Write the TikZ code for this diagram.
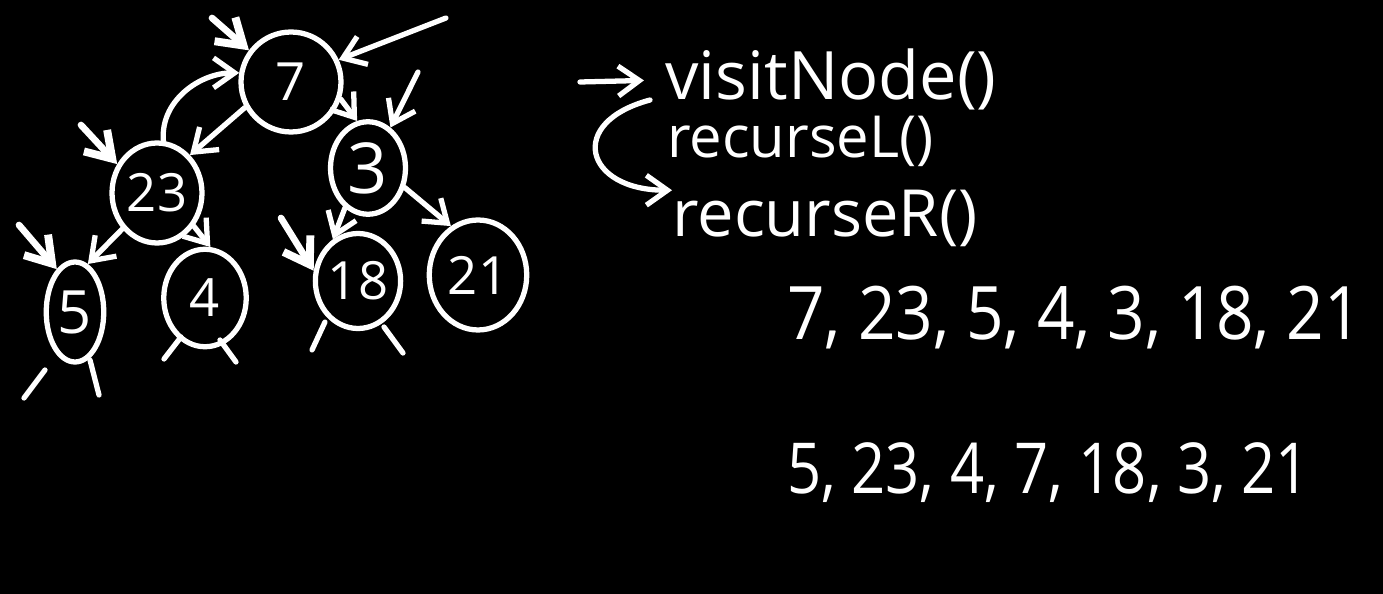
\documentclass[tikz,border=0pt]{standalone}
\usepackage{fontspec}
\setmainfont{Open Sans}
\usetikzlibrary{positioning,arrows.meta,shapes.geometric}

\begin{document}
\begin{tikzpicture}[
  x=0.02cm, y=-0.02cm,
  tnode/.style={ellipse, draw=white, line width=3pt, inner sep=0pt, text=white, font=\fontsize{30}{30}\selectfont},
  arrow/.style={-{Straight Barb[length=12pt,width=17pt,line width=3pt]}, draw=white, line width=3pt, line cap=round},
  enter/.style={arrow, -{Straight Barb[length=14pt,width=18pt,line width=4.5pt]}, line width=3.8pt},
  stub/.style={draw=white, line width=3pt, line cap=round},
  code/.style={text=white, inner sep=0pt, anchor=base west}
]
\useasboundingbox (0,0) rectangle (1383,594);
\fill[black] (0,0) rectangle (1383,594);

\node[tnode, minimum width=2.0cm, minimum height=2.0cm] (n7) at (291,82) {7};
\node[tnode, minimum width=1.8cm, minimum height=2.0cm] (n23) at (157,193) {23};
\node[tnode, minimum width=1.5cm, minimum height=1.85cm, font=\fontsize{40}{40}\selectfont] (n3) at (368,168) {3};
\node[tnode, minimum width=1.15cm, minimum height=2.0cm, font=\fontsize{34}{34}\selectfont] (n5) at (75,312) {5};
\node[tnode, minimum width=1.65cm, minimum height=1.95cm] (n4) at (205,298) {4};
\node[tnode, minimum width=1.7cm, minimum height=1.9cm] (n18) at (358,281) {18};
\node[tnode, minimum width=1.95cm, minimum height=2.2cm] (n21) at (478,275) {21};

\draw[arrow] (n7.209) -- (n23.49);
\draw[arrow] (n23.83) to[out=95,in=180] (n7.170);
\draw[arrow] (n7.-19) -- (n3.103);
\draw[arrow] (n3.-28) -- (n21.119);
\draw[arrow] (n3.240) -- (n18.121);
\draw[arrow] (n23.226) -- (n5.75);
\draw[arrow] (n23.-42) -- (n4.84);

\coordinate (in7a) at (212,18);
\coordinate (in7b) at (446,18);
\coordinate (in3) at (418,72);
\coordinate (in18) at (281,218);
\coordinate (in23) at (81,125);
\coordinate (in5) at (19,225);
\draw[enter] (in7a) -- (n7.143);
\draw[arrow] (in7b) -- (n7.25);
\draw[arrow] (in3) -- (n3.61);
\draw[enter] (in18) -- (n18.167);
\draw[enter] (in23) -- (n23.144);
\draw[enter] (in5) -- (n5.113);

\draw[stub] (n5.center) ++(-30,58) -- ++(-21,28);
\draw[stub] (n5.center) ++(15,48) -- ++(9,35);
\draw[stub] (n4.center) ++(-24,39) -- ++(-17,22);
\draw[stub] (n4.center) ++(15,42) -- ++(16,22);
\draw[stub] (n18.center) ++(-33,41) -- ++(-13,28);
\draw[stub] (n18.center) ++(26,46) -- ++(19,26);

\node[code, font=\fontsize{38}{38}\selectfont] (vn) at (665,100) {visitNode()};
\node[code, font=\fontsize{33}{33}\selectfont] (rl) at (667,158) {recurseL()};
\node[code, font=\fontsize{37}{37}\selectfont] (rr) at (672,237) {recurseR()};
\coordinate (call) at (580,82);
\draw[arrow, shorten >=12pt] (call) -- (vn.west);
\draw[arrow] ([xshift=-0.3cm]vn.base west) to[out=195,in=180,looseness=2.4] (rr.north west);

\node[code, font=\fontsize{42}{42}\selectfont] (pre) at (787,340) {\scalebox{0.89}[1]{7, 23, 5, 4, 3, 18, 21}};
\node[code, font=\fontsize{40}{40}\selectfont] (ino) at (787,494) {\scalebox{0.85}[1]{5, 23, 4, 7, 18, 3, 21}};
\end{tikzpicture}
\end{document}
